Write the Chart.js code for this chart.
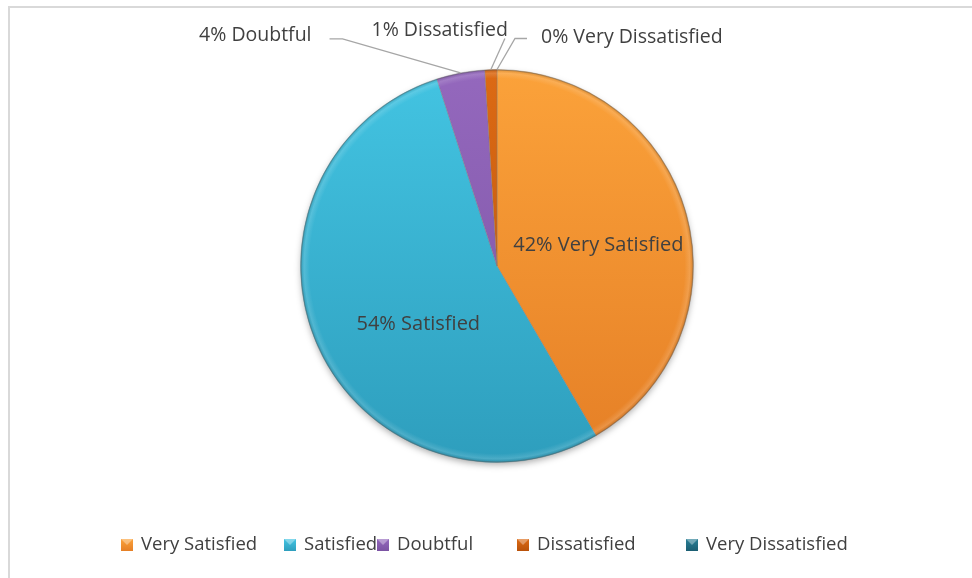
<!DOCTYPE html>
<html>
<head>
<meta charset="utf-8">
<script src="https://cdn.jsdelivr.net/npm/chart.js@4.4.1/dist/chart.umd.min.js"></script>
<style>
  html, body { margin: 0; padding: 0; background: #fff; }
  canvas { display: block; }
</style>
</head>
<body>
<canvas id="pie" width="972" height="578"></canvas>
<script>
// survey answers, in percent
var categories = ["Very Satisfied", "Satisfied", "Doubtful", "Dissatisfied", "Very Dissatisfied"];
var percentages = [42, 54, 4, 1, 0];

// light (top) / dark (bottom) shade for every slice
var topShades = ["#FBA23A", "#43C4E2", "#9468BD", "#DC6A14", "#2A7F96"];
var bottomShades = ["#E57F26", "#2E9EBD", "#7B53A3", "#B9520A", "#1B5E72"];

var textColor = "#404040";
var fontFamily = "'Open Sans', 'Noto Sans', sans-serif";

function shade(ctx, i, y0, y1) {
  var g = ctx.createLinearGradient(0, y0, 0, y1);
  g.addColorStop(0, topShades[i]);
  g.addColorStop(1, bottomShades[i]);
  return g;
}

// light grey frame round the chart
var framePlugin = {
  id: "frame",
  beforeDraw: function (chart) {
    var ctx = chart.ctx;
    ctx.save();
    ctx.fillStyle = "#fff";
    ctx.fillRect(0, 0, chart.width, chart.height);
    ctx.strokeStyle = "#d9d9d9";
    ctx.lineWidth = 2;
    ctx.strokeRect(9, 7, chart.width + 20, chart.height + 20);
    ctx.restore();
  }
};

// soft shadow under the pie and a faint bevel on its rim
var shadowPlugin = {
  id: "pieShadow",
  beforeDatasetsDraw: function (chart) {
    var arc = chart.getDatasetMeta(0).data[0];
    if (!arc) return;
    var ctx = chart.ctx;
    ctx.save();
    ctx.shadowColor = "rgba(0,0,0,0.35)";
    ctx.shadowBlur = 7;
    ctx.shadowOffsetY = 3;
    ctx.beginPath();
    ctx.arc(arc.x, arc.y, arc.outerRadius - 1, 0, Math.PI * 2);
    ctx.fillStyle = "#fff";
    ctx.fill();
    ctx.restore();
  },
  afterDatasetsDraw: function (chart) {
    var arc = chart.getDatasetMeta(0).data[0];
    if (!arc) return;
    var ctx = chart.ctx;
    var r = arc.outerRadius;
    ctx.save();
    var g = ctx.createRadialGradient(arc.x, arc.y, r - 9, arc.x, arc.y, r);
    g.addColorStop(0, "rgba(255,255,255,0)");
    g.addColorStop(0.6, "rgba(255,255,255,0.14)");
    g.addColorStop(1, "rgba(0,0,0,0.10)");
    ctx.beginPath();
    ctx.arc(arc.x, arc.y, r, 0, Math.PI * 2);
    ctx.arc(arc.x, arc.y, r - 9, 0, Math.PI * 2, true);
    ctx.fillStyle = g;
    ctx.fill();
    ctx.beginPath();
    ctx.arc(arc.x, arc.y, r - 0.5, 0, Math.PI * 2);
    ctx.strokeStyle = "rgba(90,90,90,0.35)";
    ctx.lineWidth = 1;
    ctx.stroke();
    ctx.restore();
  }
};

// value labels: inside for the big slices, with leader lines for the small ones
var labelPlugin = {
  id: "sliceLabels",
  afterDatasetsDraw: function (chart, args, opts) {
    var ctx = chart.ctx;
    var arcs = chart.getDatasetMeta(0).data;
    ctx.save();
    ctx.fillStyle = textColor;
    ctx.textBaseline = "middle";
    arcs.forEach(function (arc, i) {
      var text = percentages[i] + "% " + categories[i];
      var mid = (arc.startAngle + arc.endAngle) / 2;
      var cfg = opts.slices[i];
      if (cfg.inside) {
        var rr = arc.outerRadius * cfg.radius;
        ctx.font = opts.insideSize + "px " + fontFamily;
        ctx.textAlign = "center";
        ctx.fillText(text, arc.x + Math.cos(mid) * rr + cfg.dx, arc.y + Math.sin(mid) * rr + cfg.dy);
        return;
      }
      var ex = arc.x + Math.cos(mid) * arc.outerRadius;
      var ey = arc.y + Math.sin(mid) * arc.outerRadius;
      ctx.beginPath();
      ctx.moveTo(ex, ey);
      ctx.lineTo(ex + cfg.elbow[0], ey + cfg.elbow[1]);
      if (cfg.end) ctx.lineTo(ex + cfg.end[0], ey + cfg.end[1]);
      ctx.strokeStyle = "#a6a6a6";
      ctx.lineWidth = 1.3;
      ctx.stroke();
      ctx.font = opts.outsideSize + "px " + fontFamily;
      ctx.textAlign = cfg.align;
      ctx.fillText(text, ex + cfg.text[0], ey + cfg.text[1]);
    });
    ctx.restore();
  }
};

// legend row under the pie
var legendPlugin = {
  id: "bottomLegend",
  afterDraw: function (chart, args, opts) {
    var ctx = chart.ctx;
    ctx.save();
    ctx.font = opts.fontSize + "px " + fontFamily;
    ctx.textBaseline = "middle";
    ctx.textAlign = "left";
    categories.forEach(function (name, i) {
      var x = opts.columns[i], y = opts.y;
      var s = opts.box;
      ctx.fillStyle = shade(ctx, i, y - s / 2, y + s / 2);
      ctx.fillRect(x, y - s / 2, s, s);
      ctx.fillStyle = "rgba(255,255,255,0.35)";
      ctx.beginPath();
      ctx.moveTo(x, y - s / 2);
      ctx.lineTo(x + s, y - s / 2);
      ctx.lineTo(x + s / 2, y);
      ctx.closePath();
      ctx.fill();
      ctx.fillStyle = textColor;
      ctx.fillText(name, x + opts.gap, y);
    });
    ctx.restore();
  }
};

new Chart(document.getElementById("pie").getContext("2d"), {
  type: "pie",
  data: {
    labels: categories,
    datasets: [{
      data: percentages,
      backgroundColor: function (c) {
        var area = c.chart.chartArea;
        if (!area) return topShades[c.dataIndex];
        return shade(c.chart.ctx, c.dataIndex, area.top, area.bottom);
      },
      borderColor: "rgba(120,120,120,0.35)",
      borderWidth: 1
    }]
  },
  options: {
    responsive: false,
    animation: false,
    rotation: 0,
    layout: { padding: { top: 69, bottom: 115, left: 300, right: 278 } },
    plugins: {
      legend: { display: false },
      tooltip: { enabled: false },
      sliceLabels: {
        insideSize: 20,
        outsideSize: 19.5,
        slices: [
          { inside: true, radius: 0.55, dx: -3, dy: 8 },
          { inside: true, radius: 0.5, dx: 11, dy: 18 },
          { align: "right", elbow: [-118, -34], end: [-131, -34], text: [-149, -37] },
          { align: "right", elbow: [14, -31], text: [17, -39] },
          { align: "left", elbow: [18, -31], end: [30, -31], text: [44, -32] }
        ]
      },
      bottomLegend: {
        fontSize: 18.5,
        y: 545,
        box: 12,
        gap: 20,
        columns: [121, 284, 377, 517, 686]
      }
    }
  },
  plugins: [framePlugin, shadowPlugin, labelPlugin, legendPlugin]
});
</script>
</body>
</html>
